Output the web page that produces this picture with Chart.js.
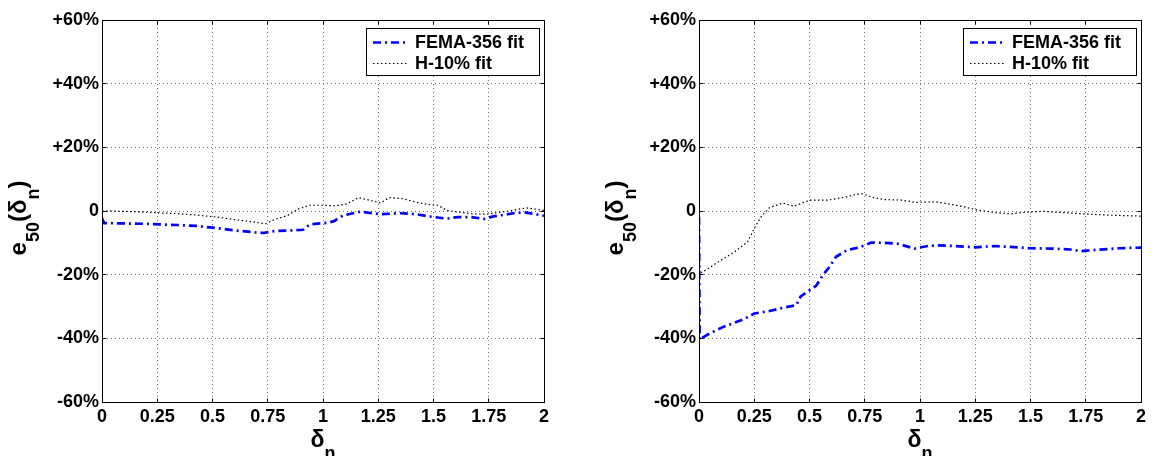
<!DOCTYPE html>
<html>
<head>
<meta charset="utf-8">
<script src="https://cdn.jsdelivr.net/npm/chart.js@4.4.1/dist/chart.umd.min.js"></script>
<style>
  html, body { margin: 0; padding: 0; background: #fff; }
  #wrap { position: relative; width: 1156px; height: 456px; overflow: hidden; }
  canvas { position: absolute; top: 0; }
  #left { left: 0; }
  #right { left: 597px; }
</style>
</head>
<body>
<div id="wrap">
  <canvas id="left" width="558" height="456"></canvas>
  <canvas id="right" width="558" height="456"></canvas>
</div>
<script>
// axis ticks
const xTicks = [0, 0.25, 0.5, 0.75, 1, 1.25, 1.5, 1.75, 2];
const yTicks = [-60, -40, -20, 0, 20, 40, 60];
const seriesNames = ['FEMA-356 fit', 'H-10% fit'];

// left panel, error in %
const leftFemaX = [0, 0.01, 0.09, 0.18, 0.26, 0.34, 0.43, 0.52, 0.60, 0.69, 0.73, 0.78, 0.85, 0.91, 0.94, 1.02, 1.05, 1.09, 1.17, 1.21, 1.26, 1.35, 1.42, 1.48, 1.56, 1.61, 1.67, 1.73, 1.77, 1.80, 1.87, 1.92, 2.0];
const leftFemaY = [-2.3, -3.8, -3.9, -4.0, -4.2, -4.4, -4.7, -5.4, -6.1, -6.7, -6.9, -6.3, -6.1, -5.9, -4.2, -3.7, -3.2, -1.4, -0.2, -0.6, -1.0, -0.7, -1.0, -1.7, -2.4, -1.9, -1.9, -2.5, -1.7, -1.4, -0.6, -0.5, -1.5];
const leftH10X = [0, 0.09, 0.18, 0.26, 0.34, 0.43, 0.52, 0.60, 0.69, 0.74, 0.78, 0.84, 0.89, 0.94, 1.0, 1.06, 1.11, 1.16, 1.21, 1.26, 1.30, 1.36, 1.42, 1.48, 1.52, 1.56, 1.62, 1.68, 1.74, 1.78, 1.84, 1.92, 2.0];
const leftH10Y = [0, -0.1, -0.3, -0.6, -0.8, -1.3, -1.9, -2.7, -3.5, -4.0, -2.7, -1.4, 0.7, 1.8, 1.8, 1.6, 2.3, 4.2, 3.4, 2.5, 4.2, 3.9, 2.8, 2.0, 1.8, 0.2, -0.4, -0.9, -1.0, -0.6, 0, 1.0, 0.2];

// right panel, error in %
const rightFemaX = [0, 0.003, 0.02, 0.05, 0.11, 0.20, 0.25, 0.32, 0.38, 0.44, 0.46, 0.50, 0.53, 0.56, 0.59, 0.62, 0.67, 0.73, 0.78, 0.84, 0.90, 0.975, 1.035, 1.08, 1.16, 1.25, 1.34, 1.41, 1.50, 1.59, 1.68, 1.73, 1.80, 1.90, 2.0];
const rightFemaY = [-2, -40.5, -39.6, -38.4, -36.4, -34.1, -32.2, -31.4, -30.4, -29.6, -26.8, -24.9, -23.5, -20.2, -17.6, -14.4, -12.3, -11.3, -9.9, -10.0, -10.3, -11.8, -11.0, -10.8, -11.0, -11.4, -11.0, -11.3, -11.7, -11.8, -12.1, -12.6, -12.2, -11.7, -11.5];
const rightH10X = [0, 0.003, 0.03, 0.08, 0.16, 0.22, 0.25, 0.28, 0.32, 0.38, 0.43, 0.50, 0.58, 0.65, 0.71, 0.74, 0.79, 0.84, 0.92, 0.98, 1.07, 1.14, 1.20, 1.26, 1.34, 1.41, 1.49, 1.56, 1.65, 1.74, 1.85, 2.0];
const rightH10Y = [-1, -19.5, -18.6, -16.3, -12.9, -9.7, -5.5, -1.9, 1.1, 2.5, 1.5, 3.4, 3.4, 4.2, 5.2, 5.4, 4.2, 3.6, 3.4, 2.7, 2.9, 2.1, 1.3, 0.3, -0.5, -0.9, -0.3, -0.1, -0.5, -0.9, -1.3, -1.6];

const FONT = '"Liberation Sans", Arial, Helvetica, sans-serif';
const pts = (xs, ys) => xs.map((x, i) => ({ x: x, y: ys[i] }));
const px = v => Math.round(v - 0.5) + 0.5;

// draws a run of [text, size, baselineShift] pieces starting at (0,0)
function drawPieces(ctx, pieces) {
  let cx = 0;
  pieces.forEach(([t, size, dy]) => {
    ctx.font = 'bold ' + size + 'px ' + FONT;
    ctx.fillText(t, cx, dy);
    cx += ctx.measureText(t).width;
  });
}
function piecesWidth(ctx, pieces) {
  return pieces.reduce((w, [t, size]) => {
    ctx.font = 'bold ' + size + 'px ' + FONT;
    return w + ctx.measureText(t).width;
  }, 0);
}

// box frame, inward tick marks, axis titles and legend
const decorations = {
  id: 'decorations',
  afterDraw(chart) {
    const { ctx, chartArea: a, scales: { x, y } } = chart;
    const l = px(a.left), r = px(a.right), t = px(a.top), b = px(a.bottom);
    ctx.save();
    ctx.strokeStyle = '#000';
    ctx.lineWidth = 1;
    ctx.setLineDash([]);
    ctx.strokeRect(l, t, r - l, b - t);
    ctx.beginPath();
    xTicks.forEach(v => {
      const p = px(x.getPixelForValue(v));
      ctx.moveTo(p, b); ctx.lineTo(p, b - 4);
      ctx.moveTo(p, t); ctx.lineTo(p, t + 4);
    });
    yTicks.forEach(v => {
      const p = px(y.getPixelForValue(v));
      ctx.moveTo(l, p); ctx.lineTo(l + 4, p);
      ctx.moveTo(r, p); ctx.lineTo(r - 4, p);
    });
    ctx.stroke();

    // axis titles
    ctx.fillStyle = '#000';
    ctx.textAlign = 'left';
    ctx.textBaseline = 'alphabetic';
    const xt = [['\u03b4', 23, 0], ['n', 18, 12]];
    ctx.save();
    ctx.translate((a.left + a.right) / 2 - piecesWidth(ctx, xt) / 2, 447);
    drawPieces(ctx, xt);
    ctx.restore();

    const yt = [['e', 24, 0], ['50', 18, 13], ['(\u03b4', 24, 0], ['n', 18, 13], [')', 24, 0]];
    ctx.save();
    ctx.translate(25.5, 218 + piecesWidth(ctx, yt) / 2);
    ctx.rotate(-Math.PI / 2);
    drawPieces(ctx, yt);
    ctx.restore();

    // legend box
    const bw = 173, bh = 47;
    const bx = Math.round(a.right - 5 - bw), by = Math.round(a.top + 8);
    ctx.fillStyle = '#fff';
    ctx.fillRect(bx, by, bw, bh);
    ctx.strokeStyle = '#000';
    ctx.lineWidth = 1;
    ctx.strokeRect(bx + 0.5, by + 0.5, bw, bh);
    chart.data.datasets.forEach((ds, i) => {
      const ry = by + 14 + i * 21;
      ctx.save();
      ctx.strokeStyle = ds.borderColor;
      ctx.lineWidth = ds.borderWidth;
      ctx.setLineDash(ds.borderDash || []);
      ctx.beginPath();
      ctx.moveTo(bx + 7, ry + 0.5);
      ctx.lineTo(bx + 42, ry + 0.5);
      ctx.stroke();
      ctx.restore();
      ctx.fillStyle = '#000';
      ctx.font = 'bold 18px ' + FONT;
      ctx.textBaseline = 'middle';
      ctx.fillText(ds.label, bx + 49, ry + 1);
    });
    ctx.restore();
  }
};

function makePanel(id, femaX, femaY, h10X, h10Y) {
  const tickFont = { family: FONT, size: 18, weight: 'bold' };
  return new Chart(document.getElementById(id), {
    type: 'line',
    data: {
      datasets: [{
        label: seriesNames[0],
        data: pts(femaX, femaY),
        borderColor: '#0000ff',
        borderWidth: 2.7,
        borderDash: [8, 4, 2, 4]
      }, {
        label: seriesNames[1],
        data: pts(h10X, h10Y),
        borderColor: '#000',
        borderWidth: 1.2,
        borderDash: [1.5, 2.5]
      }]
    },
    options: {
      responsive: false,
      animation: false,
      devicePixelRatio: 1,
      layout: { padding: { top: 20, right: 14, left: 0, bottom: 0 } },
      elements: { point: { radius: 0 }, line: { tension: 0, fill: false } },
      plugins: { legend: { display: false }, tooltip: { enabled: false } },
      scales: {
        x: {
          type: 'linear', min: 0, max: 2,
          afterBuildTicks: s => { s.ticks = xTicks.map(v => ({ value: v })); },
          afterFit: s => { s.height = 54; },
          ticks: { callback: v => String(v), font: tickFont, color: '#000', padding: 4, maxRotation: 0, autoSkip: false },
          grid: { color: 'rgba(0,0,0,0.55)', lineWidth: 1, drawTicks: false },
          border: { color: '#000', width: 1, dash: [1, 3] }
        },
        y: {
          type: 'linear', min: -60, max: 60,
          afterBuildTicks: s => { s.ticks = yTicks.map(v => ({ value: v })); },
          afterFit: s => { s.width = 102; },
          ticks: {
            callback: v => v > 0 ? '+' + v + '%' : (v === 0 ? '0' : v + '%'),
            font: tickFont, color: '#000', padding: 3
          },
          grid: { color: 'rgba(0,0,0,0.55)', lineWidth: 1, drawTicks: false },
          border: { color: '#000', width: 1, dash: [1, 3] }
        }
      }
    },
    plugins: [decorations]
  });
}

makePanel('left', leftFemaX, leftFemaY, leftH10X, leftH10Y);
makePanel('right', rightFemaX, rightFemaY, rightH10X, rightH10Y);
</script>
</body>
</html>
